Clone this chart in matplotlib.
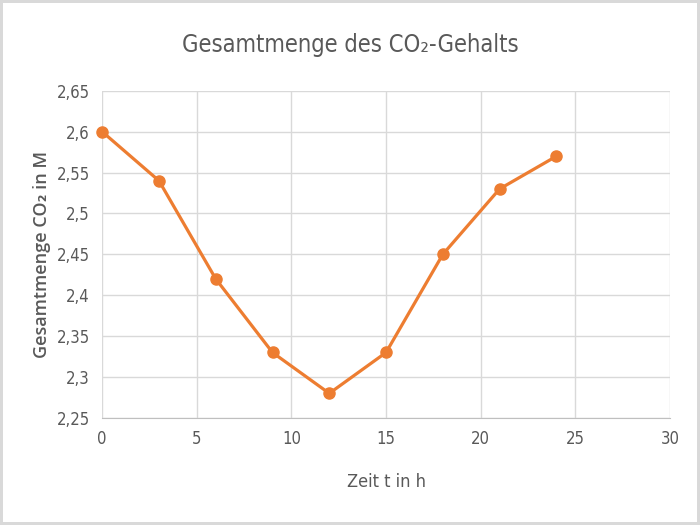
from matplotlib import pyplot as plt
from matplotlib.ticker import FuncFormatter

zeit = [0, 3, 6, 9, 12, 15, 18, 21, 24]
co2 = [2.60, 2.54, 2.42, 2.33, 2.28, 2.33, 2.45, 2.53, 2.57]

plt.rcParams['font.family'] = ['DejaVu Sans']
plt.rcParams['font.stretch'] = 'condensed'

fig = plt.figure(figsize=(7, 5.25), dpi=100, facecolor='white',
                 edgecolor='#d9d9d9', linewidth=3)
ax = fig.add_axes([0.146, 0.204, 0.811, 0.623])

ax.plot(zeit, co2, color='#ed7d31', linewidth=2.3, marker='o',
        markersize=8, clip_on=False, zorder=3)

ax.set_xlim(0, 30)
ax.set_ylim(2.25, 2.65)
ax.set_xticks(range(0, 31, 5))
ax.set_yticks([2.25, 2.3, 2.35, 2.4, 2.45, 2.5, 2.55, 2.6, 2.65])
ax.yaxis.set_major_formatter(FuncFormatter(lambda v, p: ('%g' % round(v, 2)).replace('.', ',')))

ax.grid(True, color='#d9d9d9', linewidth=1)
ax.set_axisbelow(True)
for s in ['top', 'right', 'left']:
    ax.spines[s].set_visible(False)
ax.spines['bottom'].set_color('#bfbfbf')
ax.tick_params(length=0, labelsize=12, colors='#595959', pad=9)

fig.text(0.5, 0.915, 'Gesamtmenge des CO₂-Gehalts', ha='center', va='center',
         fontsize=17, color='#595959')
ax.set_xlabel('Zeit t in h', fontsize=13, color='#595959', labelpad=18)
ax.set_ylabel('Gesamtmenge CO₂ in M', fontsize=13, color='#595959',
              family=['Open Sans', 'DejaVu Sans'], fontweight='semibold',
              fontstretch='normal', labelpad=4)

fig.savefig('out.png', dpi=100, edgecolor=fig.get_edgecolor())
